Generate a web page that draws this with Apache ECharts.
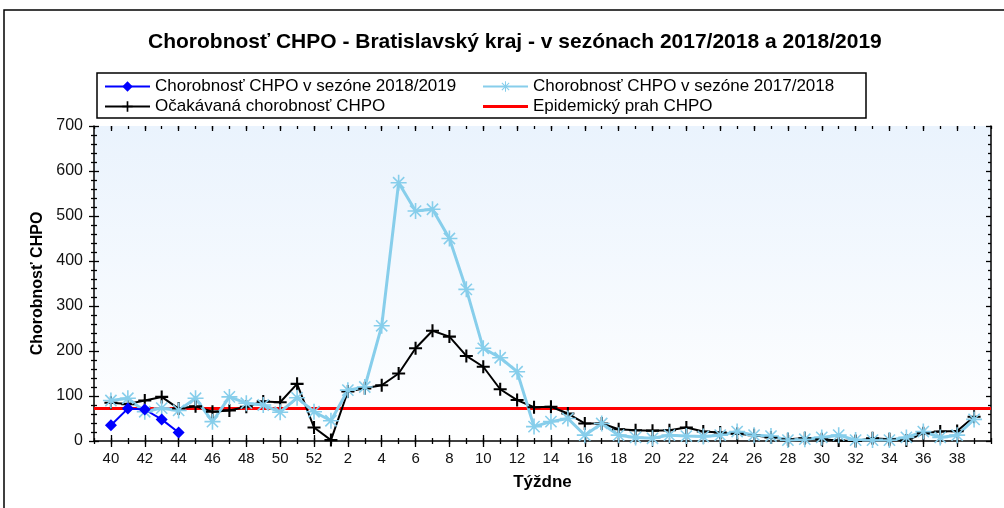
<!DOCTYPE html>
<html>
<head>
<meta charset="utf-8">
<script src="https://cdn.jsdelivr.net/npm/echarts@6/dist/echarts.min.js"></script>
<style>
  html, body { margin: 0; padding: 0; background: #fff; }
  #chart { width: 1004px; height: 508px; }
</style>
</head>
<body>
<div id="chart"></div>
<script>
// Weeks of the season, week 40 through week 39 of the next year.
var weeks = [40, 41, 42, 43, 44, 45, 46, 47, 48, 49, 50, 51, 52,
  1, 2, 3, 4, 5, 6, 7, 8, 9, 10, 11, 12, 13, 14, 15, 16, 17, 18, 19, 20,
  21, 22, 23, 24, 25, 26, 27, 28, 29, 30, 31, 32, 33, 34, 35, 36, 37, 38, 39];

// Season 2018/2019 (only first weeks reported so far).
var season1819 = [35, 72, 70, 48, 19];

// Season 2017/2018.
var season1718 = [90, 95, 65, 73, 68, 95, 43, 98, 84, 80, 64, 96, 65,
  45, 113, 120, 256, 574, 511, 515, 450, 337, 206, 185, 154, 32, 43, 50, 13, 39, 13, 8, 6,
  13, 11, 10, 13, 21, 13, 11, 2, 4, 8, 13, 2, 2, 2, 8, 21, 8, 13, 48];

// Expected morbidity.
var expected = [85, 82, 90, 98, 72, 77, 65, 68, 76, 88, 86, 127, 30,
  2, 110, 117, 124, 150, 206, 245, 232, 189, 165, 115, 91, 75, 76, 61, 39, 39, 26, 24, 23,
  24, 30, 21, 19, 16, 13, 8, 4, 6, 4, 1, 0, 6, 4, 1, 17, 21, 22, 54];

// Epidemic threshold.
var threshold = 72;

var yTicks = { min: 0, max: 700, interval: 100 };

// the axis leaves one empty slot on each side of the weeks
var cats = [''].concat(weeks.map(String)).concat(['']);
function pad(arr) {
  var out = [null].concat(arr);
  while (out.length < cats.length) out.push(null);
  return out;
}
var thresholdData = cats.map(function () { return threshold; });

function isMajor(idx, val) {
  return val !== '' && Number(val) % 2 === 0;
}

var FONT = "'Liberation Sans', Arial, sans-serif";

var plusPath = 'path://M-1.6,-10 L1.6,-10 L1.6,10 L-1.6,10 Z M-10,-1.6 L10,-1.6 L10,1.6 L-10,1.6 Z';
var starPath = 'path://M-1,-10 L1,-10 L1,10 L-1,10 Z M-10,-1 L10,-1 L10,1 L-10,1 Z ' +
  'M-6.3,-7.7 L7.7,6.3 L6.3,7.7 L-7.7,-6.3 Z M7.7,-6.3 L-6.3,7.7 L-7.7,6.3 L6.3,-7.7 Z';
// plain bar used as the legend icon of the threshold line
var barIcon = 'path://M0,0 L46,0 L46,3 L0,3 Z';

function tickAxis(position, offset, len, interval) {
  return {
    type: 'category', data: cats, boundaryGap: false, position: position,
    offset: offset,
    axisLine: { show: false, onZero: false },
    axisLabel: { show: false },
    axisTick: { show: true, inside: true, length: len, interval: interval,
      lineStyle: { color: '#000', width: 1.3 } },
    splitLine: { show: false }
  };
}

function yTickAxis(position, offset, len, minorLen) {
  return {
    type: 'value', min: yTicks.min, max: yTicks.max, interval: yTicks.interval,
    position: position, offset: offset,
    axisLine: { show: false, onZero: false },
    axisLabel: { show: false },
    axisTick: { show: len > 0, inside: true, length: len,
      lineStyle: { color: '#000', width: 1.3 } },
    minorTick: { show: minorLen > 0, splitNumber: 5, length: minorLen,
      lineStyle: { color: '#000', width: 1.3 } },
    splitLine: { show: false }
  };
}

var legendText = { fontFamily: FONT, fontSize: 17, color: '#000' };

var chart = echarts.init(document.getElementById('chart'));

chart.setOption({
  animation: false,
  backgroundColor: '#fff',
  title: {
    text: 'Chorobnosť CHPO - Bratislavský kraj - v sezónach 2017/2018 a 2018/2019',
    left: 143, top: 27,
    textStyle: { fontFamily: FONT, fontSize: 21, fontWeight: 'bold', color: '#000' }
  },
  legend: [{
    orient: 'vertical', left: 99, top: 73, itemWidth: 45, itemHeight: 13, itemGap: 3,
    textStyle: legendText,
    data: ['Chorobnosť CHPO v sezóne 2018/2019', 'Očakávaná chorobnosť CHPO']
  }, {
    orient: 'vertical', left: 477, top: 73, itemWidth: 45, itemHeight: 13, itemGap: 3,
    textStyle: legendText,
    data: ['Chorobnosť CHPO v sezóne 2017/2018',
      { name: 'Epidemický prah CHPO', icon: barIcon }]
  }],
  graphic: [{
    type: 'rect', shape: { x: 4, y: 10, width: 1010, height: 510 },
    style: { fill: null, stroke: '#000', lineWidth: 1.5 }, silent: true
  }, {
    type: 'rect', shape: { x: 97, y: 73, width: 769, height: 45 },
    style: { fill: null, stroke: '#000', lineWidth: 1.5 }, silent: true
  }],
  grid: {
    left: 94, right: 13, top: 126, bottom: 67, containLabel: false,
    show: true, borderWidth: 0,
    backgroundColor: new echarts.graphic.LinearGradient(0, 0, 0, 1, [
      { offset: 0, color: '#eaf3fd' }, { offset: 1, color: '#ffffff' }
    ])
  },
  xAxis: [{
    type: 'category', data: cats, boundaryGap: false, position: 'bottom',
    name: 'Týždne', nameLocation: 'middle', nameGap: 33,
    nameTextStyle: { fontFamily: FONT, fontSize: 17, fontWeight: 'bold', color: '#000' },
    axisLine: { onZero: false, lineStyle: { color: '#000', width: 1.5 } },
    axisTick: { show: false },
    axisLabel: { interval: isMajor, fontFamily: FONT, fontSize: 15, color: '#111', margin: 10 },
    splitLine: { show: false }
  },
  tickAxis('bottom', 6, 12, isMajor),
  tickAxis('bottom', 3, 6, 0),
  tickAxis('top', 0, 5, isMajor),
  tickAxis('top', 0, 3, 0)
  ],
  yAxis: [{
    type: 'value', min: yTicks.min, max: yTicks.max, interval: yTicks.interval,
    position: 'left',
    name: 'Chorobnosť CHPO', nameLocation: 'middle', nameGap: 43,
    nameTextStyle: { fontFamily: FONT, fontSize: 16, fontWeight: 'bold', color: '#000' },
    axisLine: { show: true, onZero: false, lineStyle: { color: '#000', width: 1.5 } },
    axisTick: { show: false },
    axisLabel: { fontFamily: FONT, fontSize: 16, color: '#111', margin: 11 },
    splitLine: { show: false }
  },
  yTickAxis('left', 5, 10, 0),
  yTickAxis('left', 3, 0, 6),
  {
    type: 'value', min: yTicks.min, max: yTicks.max, interval: yTicks.interval,
    position: 'right',
    axisLine: { show: true, onZero: false, lineStyle: { color: '#000', width: 1.5 } },
    axisLabel: { show: false },
    axisTick: { show: true, inside: true, length: 5, lineStyle: { color: '#000', width: 1.3 } },
    minorTick: { show: true, splitNumber: 5, length: 3, lineStyle: { color: '#000', width: 1.3 } },
    splitLine: { show: false }
  }],
  series: [{
    name: 'Epidemický prah CHPO', type: 'line', data: thresholdData,
    symbol: 'none', lineStyle: { color: '#ff0000', width: 3 }, itemStyle: { color: '#ff0000' }
  }, {
    name: 'Očakávaná chorobnosť CHPO', type: 'line', data: pad(expected),
    symbol: plusPath, symbolSize: 13, showAllSymbol: true,
    lineStyle: { color: '#000', width: 2 }, itemStyle: { color: '#000' }
  }, {
    name: 'Chorobnosť CHPO v sezóne 2017/2018', type: 'line', data: pad(season1718),
    symbol: starPath, symbolSize: 16, showAllSymbol: true,
    lineStyle: { color: '#87ceeb', width: 3 }, itemStyle: { color: '#87ceeb' }
  }, {
    name: 'Chorobnosť CHPO v sezóne 2018/2019', type: 'line', data: pad(season1819),
    symbol: 'diamond', symbolSize: 12, showAllSymbol: true,
    lineStyle: { color: '#0000ff', width: 2 }, itemStyle: { color: '#0000ff' }
  }]
});
</script>
</body>
</html>
